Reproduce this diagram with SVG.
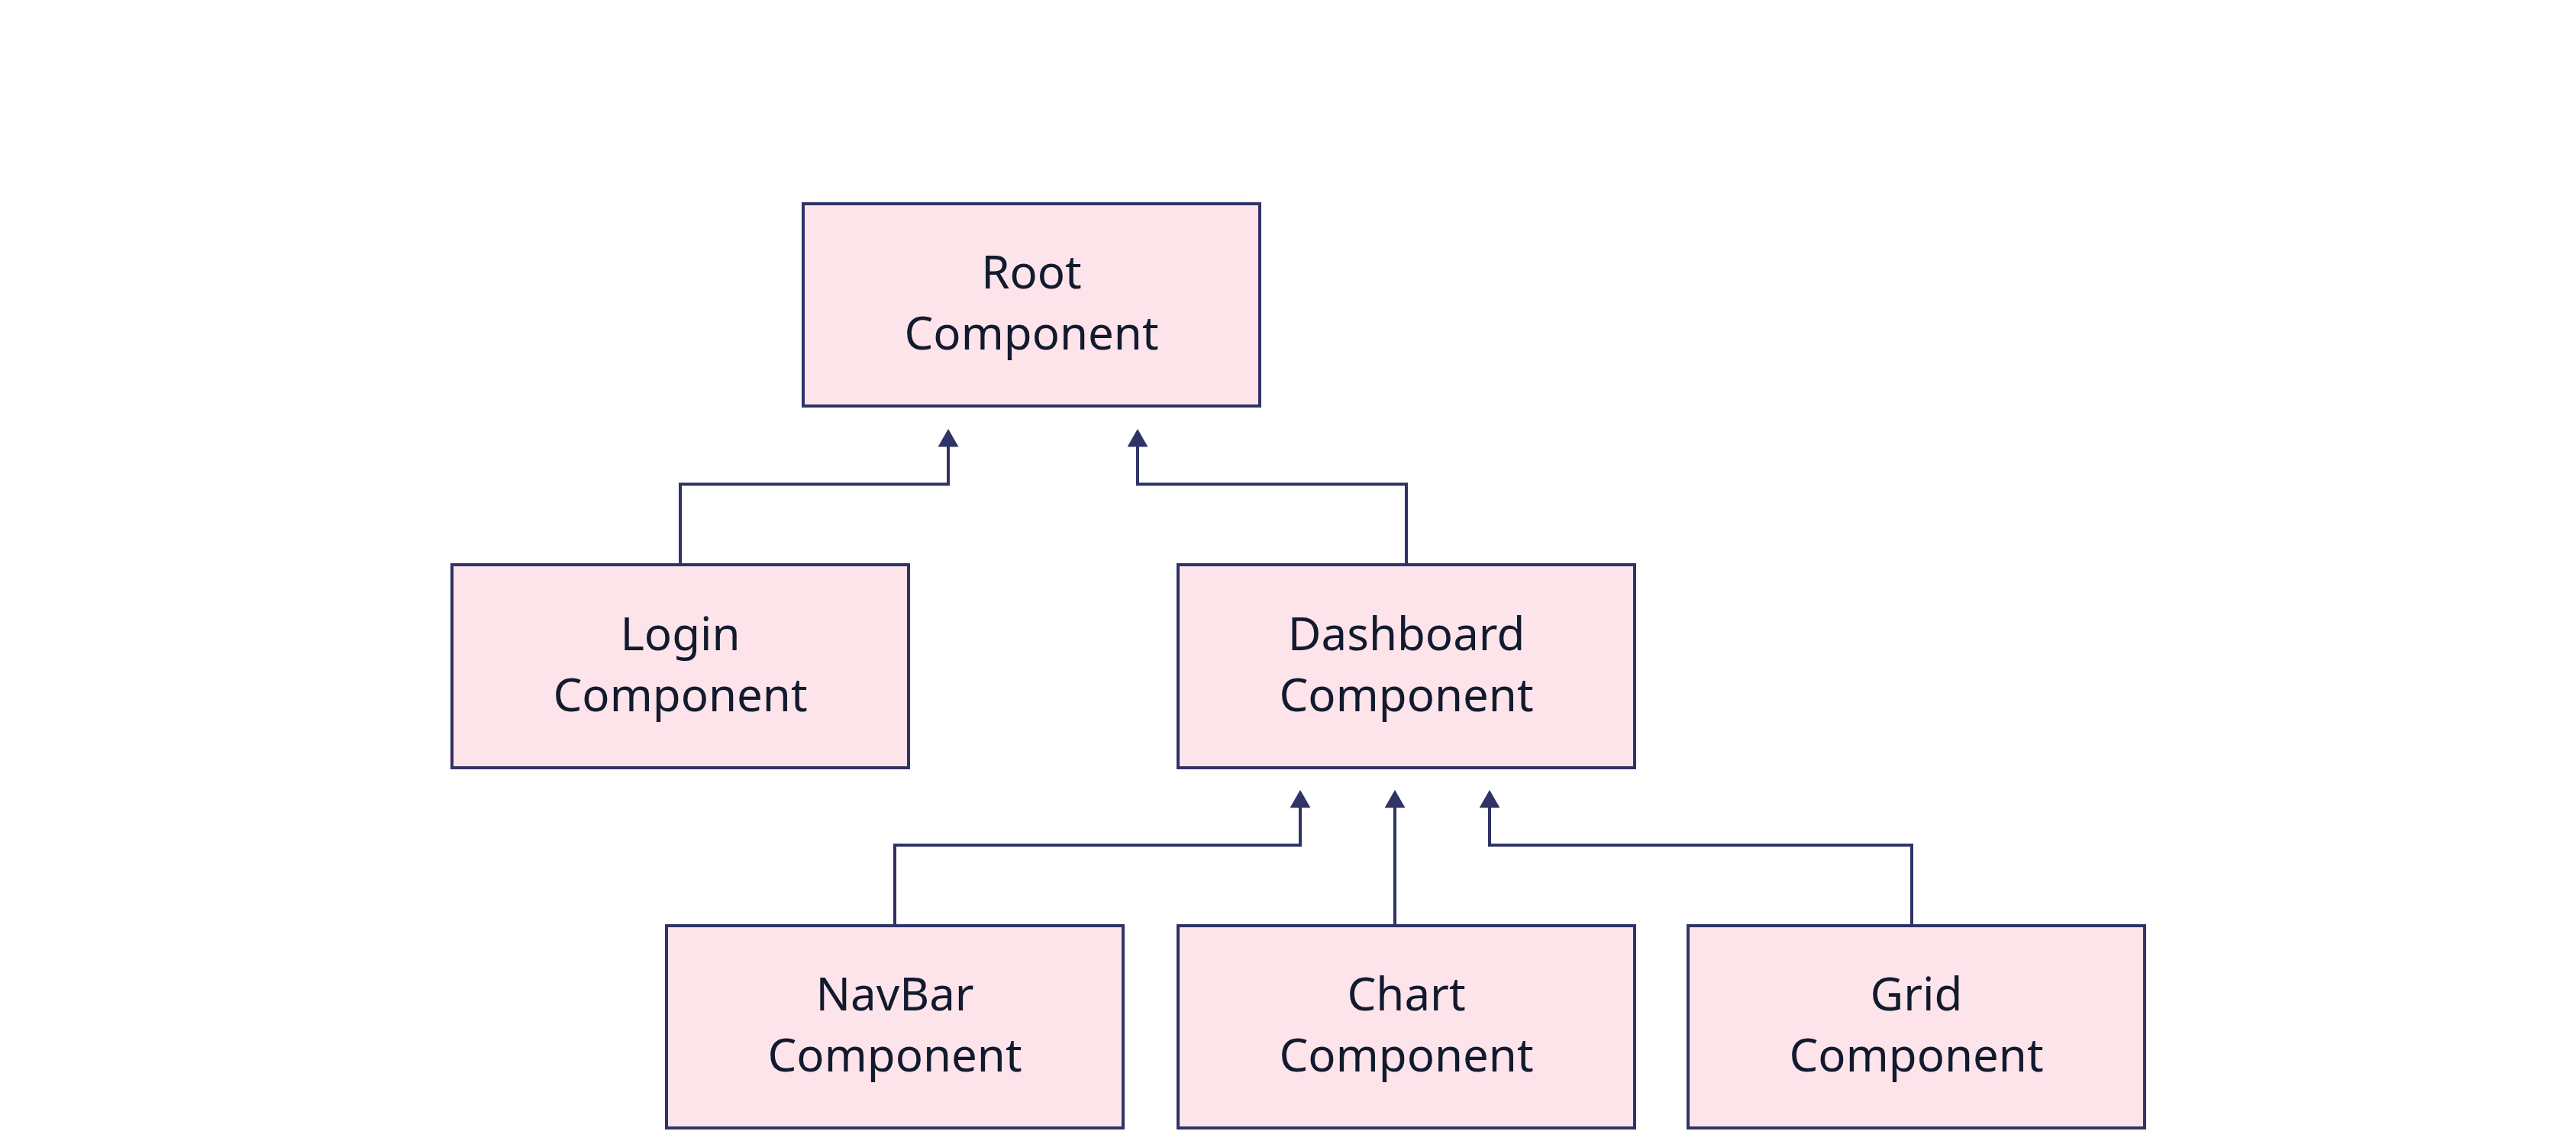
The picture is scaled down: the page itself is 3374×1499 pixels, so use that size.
<svg xmlns="http://www.w3.org/2000/svg" width="3374" height="1499" viewBox="0 0 3374 1499">
<defs>
<style>
.box{fill:#fde4ea;stroke:#2f3366;stroke-width:4}
.lbl{font-family:"Noto Sans","Open Sans","Liberation Sans",sans-serif;font-size:60px;fill:#121a2e;text-anchor:middle}
.edge{fill:none;stroke:#2f3366;stroke-width:4}
</style>
<marker id="arr" markerUnits="userSpaceOnUse" markerWidth="24" markerHeight="28" refX="1" refY="13.5" orient="auto" viewBox="0 0 24 28">
<path d="M0,0 L23.5,13.5 L0,27 z" fill="#2f3366"/>
</marker>
</defs>
<rect width="3374" height="1499" fill="#ffffff"/>
<g id="connectors">
<path class="edge" d="M891,740 V634.5 H1242 V584.5" marker-end="url(#arr)"/>
<path class="edge" d="M1842,740 V634.5 H1490 V584.5" marker-end="url(#arr)"/>
<path class="edge" d="M1172,1213 V1107.5 H1703 V1057.5" marker-end="url(#arr)"/>
<path class="edge" d="M1827,1213 V1057.5" marker-end="url(#arr)"/>
<path class="edge" d="M2504,1213 V1107.5 H1951 V1057.5" marker-end="url(#arr)"/>
</g>
<g id="root">
<rect class="box" x="1052" y="267" width="598" height="265"/>
<text class="lbl" x="1351" y="378">Root</text>
<text class="lbl" x="1351" y="458">Component</text>
</g>
<g id="login">
<rect class="box" x="592" y="740" width="598" height="266"/>
<text class="lbl" x="891" y="851.5">Login</text>
<text class="lbl" x="891" y="931.5">Component</text>
</g>
<g id="dashboard">
<rect class="box" x="1543" y="740" width="598" height="266"/>
<text class="lbl" x="1842" y="851.5">Dashboard</text>
<text class="lbl" x="1842" y="931.5">Component</text>
</g>
<g id="navbar">
<rect class="box" x="873" y="1213" width="598" height="265"/>
<text class="lbl" x="1172" y="1324">NavBar</text>
<text class="lbl" x="1172" y="1404">Component</text>
</g>
<g id="chart">
<rect class="box" x="1543" y="1213" width="598" height="265"/>
<text class="lbl" x="1842" y="1324">Chart</text>
<text class="lbl" x="1842" y="1404">Component</text>
</g>
<g id="grid">
<rect class="box" x="2211" y="1213" width="598" height="265"/>
<text class="lbl" x="2510" y="1324">Grid</text>
<text class="lbl" x="2510" y="1404">Component</text>
</g>
</svg>
